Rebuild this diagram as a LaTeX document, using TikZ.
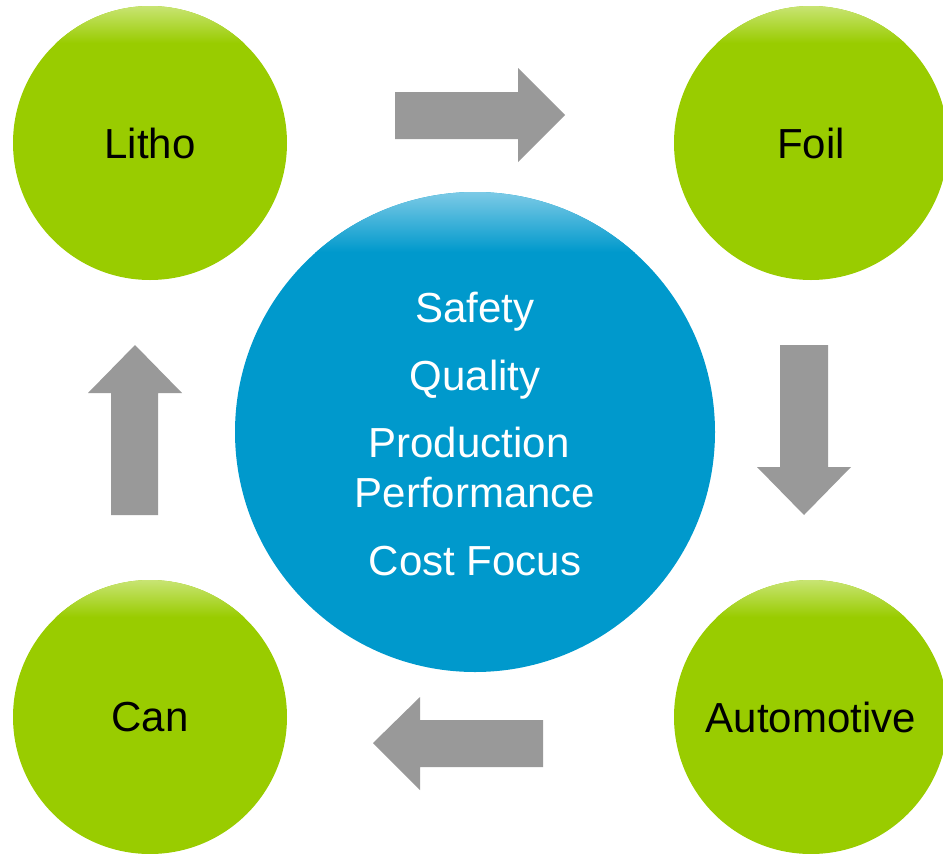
\documentclass[tikz,border=0pt]{standalone}
\usepackage{fontspec}
\setmainfont{Liberation Sans}
\definecolor{grn}{HTML}{99CC00}
\definecolor{grnlight}{HTML}{C8E473}
\definecolor{blu}{HTML}{0099CC}
\definecolor{blulight}{HTML}{7CCAE6}
\definecolor{arr}{HTML}{999999}
\tikzset{
  gcirc/.style={circle, fill=grn, minimum size=274pt, inner sep=0pt, font=\fontsize{42}{48}\selectfont, text=black},
  bcirc/.style={circle, fill=blu, minimum size=480pt, inner sep=0pt},
  ctext/.style={anchor=base, text=white, font=\fontsize{42}{48}\selectfont, inner sep=0pt},
  blockarrow/.style={fill=arr, draw=none}
}
\begin{document}
\begin{tikzpicture}[x=1pt,y=-1pt]
\useasboundingbox (0,0) rectangle (943,854);
% central circle
\node[bcirc] (center) at (475,432) {};
\begin{scope}
  \clip (475,432) circle (240pt);
  \shade[top color=blulight, bottom color=blu] (235,192) rectangle (715,252);
\end{scope}
% green circles
\foreach \n/\x/\y in {litho/150/143, foil/811/143, auto/811/717, can/150/717}{
  \node[gcirc] (\n) at (\x,\y) {};
  \begin{scope}
    \clip (\x,\y) circle (137pt);
    \shade[top color=grnlight, bottom color=grn] (\x-137,\y-137) rectangle (\x+137,\y-100);
  \end{scope}
}
\node[gcirc, fill=none] at (litho) {Litho};
\node[gcirc, fill=none] at (foil) {Foil};
\node[gcirc, fill=none] at (auto) {Automotive};
\node[gcirc, fill=none] at (can) {Can};
% central texts
\node[ctext] (t1) at (475,322) {Safety};
\node[ctext] (t2) at (475,390) {Quality};
\node[ctext] (t3) at (469,457) {Production};
\node[ctext] (t4) at (475,507) {Performance};
\node[ctext] (t5) at (475,575) {Cost Focus};
% block arrows
\fill[blockarrow] (395,92) -- (518,92) -- (518,68) -- (565,115) -- (518,162) -- (518,139) -- (395,139) -- cycle;
\fill[blockarrow] (780,345) -- (828,345) -- (828,467) -- (851,467) -- (804,515) -- (757,467) -- (780,467) -- cycle;
\fill[blockarrow] (543,720) -- (420,720) -- (420,697) -- (373,743) -- (420,790) -- (420,767) -- (543,767) -- cycle;
\fill[blockarrow] (111,515) -- (111,393) -- (88,393) -- (135,345) -- (182,393) -- (158,393) -- (158,515) -- cycle;
\end{tikzpicture}
\end{document}
